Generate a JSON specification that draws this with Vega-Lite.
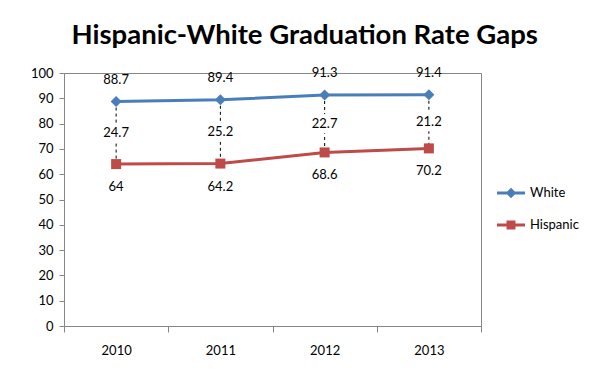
{
  "$schema": "https://vega.github.io/schema/vega-lite/v6.json",
  "width": 417,
  "height": 253,
  "padding": {"left": 30, "top": 22, "right": 20, "bottom": 10},
  "background": "white",
  "title": {
    "text": "Hispanic-White Graduation Rate Gaps",
    "font": "Lato",
    "fontSize": 27.5,
    "fontWeight": "bold",
    "color": "black",
    "anchor": "middle",
    "frame": "bounds",
    "offset": 17
  },
  "data": {
    "values": [
      {"year": "2010", "White": 88.7, "Hispanic": 64, "Gap": 24.7},
      {"year": "2011", "White": 89.4, "Hispanic": 64.2, "Gap": 25.2},
      {"year": "2012", "White": 91.3, "Hispanic": 68.6, "Gap": 22.7},
      {"year": "2013", "White": 91.4, "Hispanic": 70.2, "Gap": 21.2}
    ]
  },
  "encoding": {
    "x": {
      "field": "year",
      "type": "ordinal",
      "bandPosition": 0.5,
      "scale": {"type": "band", "paddingInner": 0, "paddingOuter": 0},
      "axis": {"title": null, "labelAngle": 0, "tickBand": "extent", "tickSize": 6, "labelPadding": 12}
    }
  },
  "layer": [
    {
      "mark": {"type": "rule", "strokeDash": [3, 3], "color": "black", "strokeWidth": 1},
      "encoding": {
        "y": {"field": "White", "type": "quantitative", "scale": {"domain": [0, 100], "nice": false}, "axis": {"title": null, "values": [0,10,20,30,40,50,60,70,80,90,100], "labelOverlap": false, "grid": false, "tickSize": 5, "labelPadding": 6}},
        "y2": {"field": "Hispanic"}
      }
    },
    {
      "transform": [{"fold": ["White", "Hispanic"], "as": ["series", "value"]}],
      "mark": {"type": "point", "shape": "square", "filled": true, "color": "white", "opacity": 1, "size": 380},
      "encoding": {"y": {"aggregate": "mean", "field": "value", "type": "quantitative", "axis": {"title": null, "values": [0,10,20,30,40,50,60,70,80,90,100], "labelOverlap": false, "grid": false, "tickSize": 5, "labelPadding": 6}}}
    },
    {
      "transform": [{"fold": ["White", "Hispanic"], "as": ["series", "value"]}],
      "mark": {"type": "text", "font": "Lato", "fontSize": 13, "color": "black", "baseline": "middle"},
      "encoding": {
        "y": {"aggregate": "mean", "field": "value", "type": "quantitative", "axis": {"title": null, "values": [0,10,20,30,40,50,60,70,80,90,100], "labelOverlap": false, "grid": false, "tickSize": 5, "labelPadding": 6}},
        "text": {"aggregate": "max", "field": "Gap", "type": "quantitative"}
      }
    },
    {
      "transform": [{"fold": ["White", "Hispanic"], "as": ["series", "value"]}],
      "mark": {"type": "line", "strokeWidth": 3},
      "encoding": {
        "y": {"field": "value", "type": "quantitative", "axis": {"title": null, "values": [0,10,20,30,40,50,60,70,80,90,100], "labelOverlap": false, "grid": false, "tickSize": 5, "labelPadding": 6}},
        "color": {"field": "series", "type": "nominal", "scale": {"domain": ["White", "Hispanic"], "range": ["#4A7EBB", "#BE4B48"]}, "legend": null}
      }
    },
    {
      "transform": [{"fold": ["White"], "as": ["series", "value"]}],
      "mark": {"type": "point", "shape": "diamond", "filled": true, "opacity": 1, "size": 120, "color": "#4A7EBB"},
      "encoding": {
        "y": {"field": "value", "type": "quantitative", "axis": {"title": null, "values": [0,10,20,30,40,50,60,70,80,90,100], "labelOverlap": false, "grid": false, "tickSize": 5, "labelPadding": 6}}
      }
    },
    {
      "transform": [{"fold": ["Hispanic"], "as": ["series", "value"]}],
      "mark": {"type": "point", "shape": "square", "filled": true, "opacity": 1, "size": 100, "color": "#BE4B48"},
      "encoding": {
        "y": {"field": "value", "type": "quantitative", "axis": {"title": null, "values": [0,10,20,30,40,50,60,70,80,90,100], "labelOverlap": false, "grid": false, "tickSize": 5, "labelPadding": 6}}
      }
    },
    {
      "transform": [{"fold": ["White"], "as": ["series", "value"]}],
      "mark": {"type": "text", "font": "Lato", "fontSize": 13, "color": "black", "baseline": "middle", "dy": -22},
      "encoding": {
        "y": {"field": "value", "type": "quantitative", "axis": {"title": null, "values": [0,10,20,30,40,50,60,70,80,90,100], "labelOverlap": false, "grid": false, "tickSize": 5, "labelPadding": 6}},
        "text": {"field": "value", "type": "quantitative"}
      }
    },
    {
      "transform": [{"fold": ["Hispanic"], "as": ["series", "value"]}],
      "mark": {"type": "text", "font": "Lato", "fontSize": 13, "color": "black", "baseline": "middle", "dy": 23},
      "encoding": {
        "y": {"field": "value", "type": "quantitative", "axis": {"title": null, "values": [0,10,20,30,40,50,60,70,80,90,100], "labelOverlap": false, "grid": false, "tickSize": 5, "labelPadding": 6}},
        "text": {"field": "value", "type": "quantitative"}
      }
    },
    {
      "transform": [{"fold": ["White"], "as": ["series", "value"]}, {"filter": "datum.year == 'none'"}],
      "mark": {"type": "point", "filled": true, "opacity": 1, "strokeWidth": 0, "color": "#4A7EBB"},
      "encoding": {
        "y": {"field": "value", "type": "quantitative", "axis": {"title": null, "values": [0,10,20,30,40,50,60,70,80,90,100], "labelOverlap": false, "grid": false, "tickSize": 5, "labelPadding": 6}},
        "shape": {"field": "series", "type": "nominal", "scale": {"domain": ["White"], "range": ["M-1,-0.1L1,-0.1L1,0.1L-1,0.1Z M0,-0.38L0.38,0L0,0.38L-0.38,0Z"]},
          "legend": {"orient": "none", "legendX": 433, "legendY": 106, "title": null, "symbolSize": 784, "symbolStrokeWidth": 0, "labelOffset": 5, "padding": 0, "labelFont": "Lato", "labelFontSize": 13, "labelColor": "black"}}
      }
    },
    {
      "transform": [{"fold": ["Hispanic"], "as": ["series", "value"]}, {"filter": "datum.year == 'none'"}],
      "mark": {"type": "point", "filled": true, "opacity": 1, "strokeWidth": 0, "color": "#BE4B48"},
      "encoding": {
        "y": {"field": "value", "type": "quantitative", "axis": {"title": null, "values": [0,10,20,30,40,50,60,70,80,90,100], "labelOverlap": false, "grid": false, "tickSize": 5, "labelPadding": 6}},
        "shape": {"field": "series", "type": "nominal", "scale": {"domain": ["Hispanic"], "range": ["M-1,-0.1L1,-0.1L1,0.1L-1,0.1Z M-0.32,-0.32L0.32,-0.32L0.32,0.32L-0.32,0.32Z"]},
          "legend": {"orient": "none", "legendX": 433, "legendY": 138, "title": null, "symbolSize": 784, "symbolStrokeWidth": 0, "labelOffset": 5, "padding": 0, "labelFont": "Lato", "labelFontSize": 13, "labelColor": "black"}}
      }
    }
  ],
  "resolve": {"scale": {"shape": "independent"}},
  "config": {
    "view": {"stroke": "#868686", "strokeWidth": 1},
    "axis": {"domainColor": "#868686", "tickColor": "#868686", "labelFont": "Lato", "labelFontSize": 13, "labelColor": "black"}
  }
}
